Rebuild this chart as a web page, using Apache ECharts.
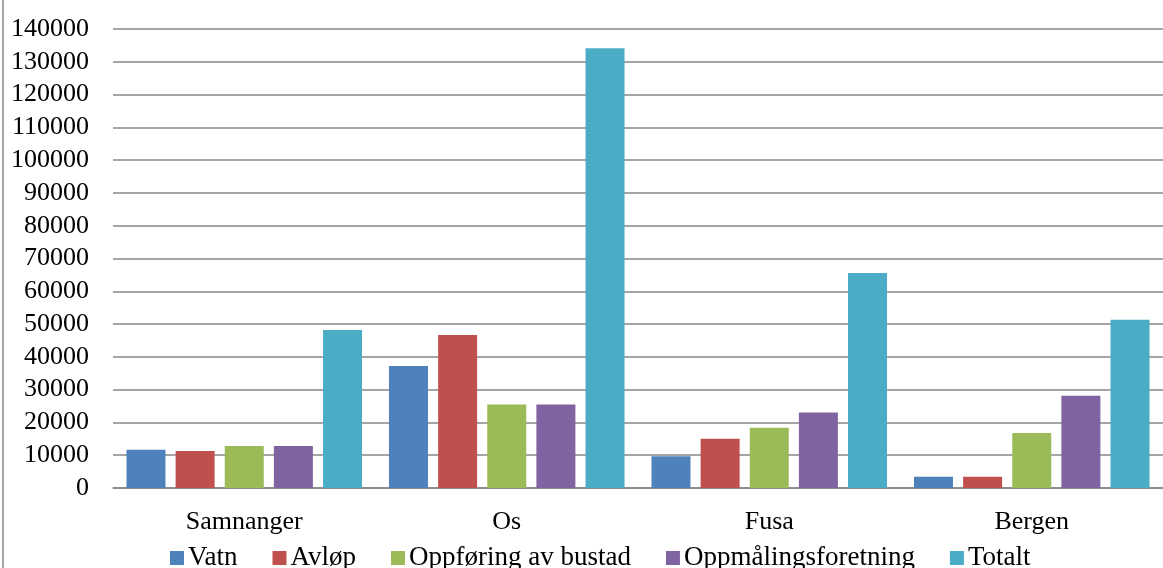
<!DOCTYPE html>
<html>
<head>
<meta charset="utf-8">
<script src="https://cdn.jsdelivr.net/npm/echarts@6/dist/echarts.min.js"></script>
<style>
html,body{margin:0;padding:0;background:#fff;}
#chart{width:1163px;height:568px;}
</style>
</head>
<body>
<div id="chart"></div>
<script>
const categories = ['Samnanger', 'Os', 'Fusa', 'Bergen'];
const seriesNames = ['Vatn', 'Avløp', 'Oppføring av bustad', 'Oppmålingsforetning', 'Totalt'];
const vatn = [11700, 37200, 9700, 3400];
const avlop = [11300, 46700, 15000, 3400];
const oppforing = [12800, 25500, 18400, 16800];
const oppmaling = [12800, 25500, 23000, 28100];
const totalt = [48200, 134100, 65600, 51300];
const colors = ['#4F81BD', '#C0504D', '#9BBB59', '#8064A2', '#4BACC6'];
const values = [vatn, avlop, oppforing, oppmaling, totalt];

const font = '"Liberation Serif", "Times New Roman", serif';
const chart = echarts.init(document.getElementById('chart'), null, {renderer: 'canvas'});
chart.setOption({
  animation: false,
  color: colors,
  textStyle: {fontFamily: font},
  grid: {left: 113, right: -7, top: 29, bottom: 80, containLabel: false},
  legend: {
    left: 170, top: 544, padding: 0,
    itemWidth: 14, itemHeight: 14, itemGap: 35,
    icon: 'rect',
    textStyle: {fontFamily: font, fontSize: 27, color: '#000', padding: [0,0,0,-1], lineHeight: 28},
    data: seriesNames
  },
  xAxis: {
    type: 'category', data: categories,
    axisLine: {show: true, lineStyle: {color: '#878787', width: 1.5}},
    axisTick: {show: false},
    axisLabel: {fontFamily: font, fontSize: 26, color: '#000', margin: 21}
  },
  yAxis: {
    type: 'value', min: 0, max: 140000, interval: 10000,
    axisLine: {show: false}, axisTick: {show: false},
    splitLine: {lineStyle: {color: '#878787', width: 1.5}},
    axisLabel: {fontFamily: font, fontSize: 26, color: '#000', margin: 24, formatter: v => String(v)}
  },
  graphic: [{type: 'line', shape: {x1: 3, y1: 0, x2: 3, y2: 568}, style: {stroke: '#888', lineWidth: 1.5}}],
  series: seriesNames.map((n, i) => ({
    name: n, type: 'bar', data: values[i],
    barWidth: 39, barGap: '26%',
    itemStyle: {color: colors[i]}
  }))
});
</script>
</body>
</html>
